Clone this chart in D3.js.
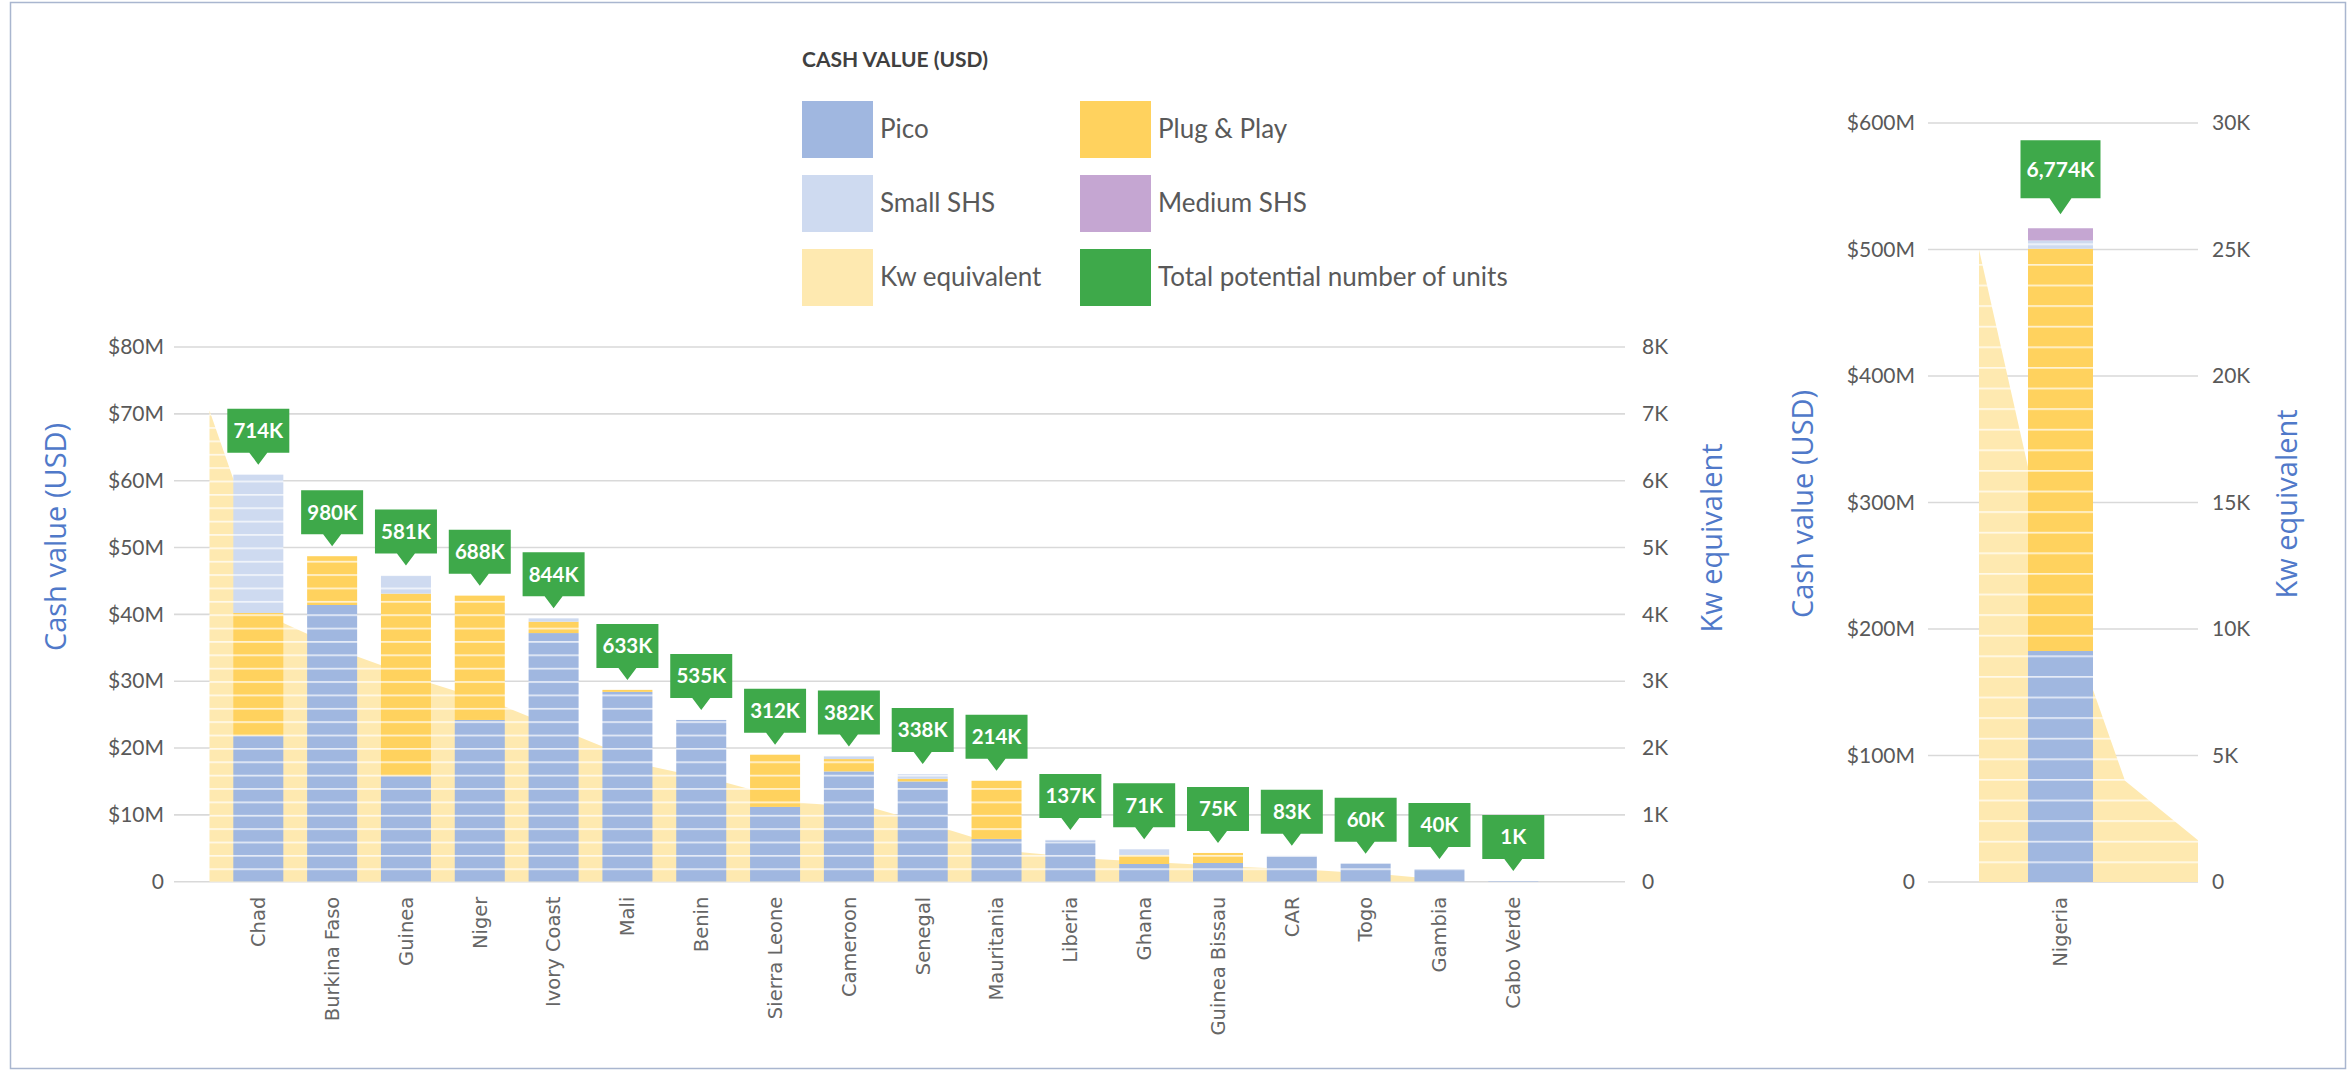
<!DOCTYPE html>
<html><head><meta charset="utf-8">
<script src="https://cdn.jsdelivr.net/npm/d3@7"></script>
<style>body{margin:0;background:#fff;} svg{display:block;}</style>
</head><body>
<svg id="chart" width="2351" height="1072"></svg>
<script>
// ---------- DATA ----------
const countries = ['Chad','Burkina Faso','Guinea','Niger','Ivory Coast','Mali','Benin','Sierra Leone','Cameroon','Senegal','Mauritania','Liberia','Ghana','Guinea Bissau','CAR','Togo','Gambia','Cabo Verde'];
// cash value, $M
const pico      = [21.8, 41.4, 15.8, 24.2, 37.2, 28.4, 24.2, 11.2, 16.5, 15.0, 6.4, 6.1, 2.65, 2.8, 3.8, 2.7, 1.9, 0.1];
const plugPlay  = [18.4, 7.3, 27.3, 18.6, 1.7, 0.3, 0, 7.8, 1.85, 0.4, 8.7, 0, 1.35, 1.5, 0, 0, 0, 0];
const smallSHS  = [20.7, 0, 2.7, 0, 0.5, 0, 0, 0, 0.4, 0.7, 0, 0.15, 0.85, 0, 0.1, 0, 0, 0];
const mediumSHS = [0, 0, 0, 0, 0, 0, 0, 0, 0, 0, 0, 0, 0, 0, 0, 0, 0, 0];
// total potential number of units (thousands)
const units = [714, 980, 581, 688, 844, 633, 535, 312, 382, 338, 214, 137, 71, 75, 83, 60, 40, 1];
// Kw equivalent (kW)
const kwEquivalent = [7050, 3870, 3370, 2970, 2620, 2170, 1720, 1480, 1180, 1100, 780, 440, 340, 280, 220, 170, 100, 0];

const nigeriaCategory = ['Nigeria'];
const nigeriaPico = [182.6];
const nigeriaPlugPlay = [318];
const nigeriaSmallSHS = [6.5];
const nigeriaMediumSHS = [9.7];
const nigeriaUnits = [6774];
const nigeriaKw = [25000, 12200, 4000, 1650];

const leftCashTicks = [0, 10, 20, 30, 40, 50, 60, 70, 80];
const leftKwTicks = [0, 1000, 2000, 3000, 4000, 5000, 6000, 7000, 8000];
const nigeriaCashTicks = [0, 100, 200, 300, 400, 500, 600];
const nigeriaKwTicks = [0, 5000, 10000, 15000, 20000, 25000, 30000];

const seriesKeys = ['Pico', 'Plug & Play', 'Small SHS', 'Medium SHS'];
const legendItems = ['Pico', 'Small SHS', 'Kw equivalent', 'Plug & Play', 'Medium SHS', 'Total potential number of units'];

// ---------- STYLE ----------
const colors = {
  'Pico': '#A0B7E0',
  'Plug & Play': '#FFD25E',
  'Small SHS': '#CEDAF0',
  'Medium SHS': '#C5A6D2',
  'Kw equivalent': '#FEE9B0',
  'Total potential number of units': '#3EA94A'
};
const textGray = '#595959';
const titleBlue = '#5079C9';
const gridColor = '#D9D9D9';

const svg = d3.select('#chart');
svg.append('rect').attr('width', 2351).attr('height', 1072).attr('fill', '#fff');
svg.append('rect').attr('x', 10.5).attr('y', 2.5).attr('width', 2335).attr('height', 1066)
  .attr('fill', 'none').attr('stroke', '#A9B6CF').attr('stroke-width', 1.5);

const defs = svg.append('defs');
function stripePattern(id, color, spacing, originY) {
  const p = defs.append('pattern').attr('id', id).attr('patternUnits', 'userSpaceOnUse')
    .attr('x', 0).attr('y', originY).attr('width', 20).attr('height', spacing);
  p.append('rect').attr('width', 20).attr('height', spacing).attr('fill', color);
  p.append('rect').attr('width', 20).attr('height', 1.7).attr('y', 0).attr('fill', '#fff').attr('opacity', 0.72);
}

function fmtCash(v) { return v === 0 ? '0' : '$' + v + 'M'; }
function fmtKw(v) { return v === 0 ? '0' : (v / 1000) + 'K'; }
const fmtUnits = v => d3.format(',')(v) + 'K';

function drawPanel(cfg) {
  const g = svg.append('g');
  const yC = d3.scaleLinear().domain(cfg.cashDomain).range([cfg.y0, cfg.y1]);
  const yK = d3.scaleLinear().domain(cfg.kwDomain).range([cfg.y0, cfg.y1]);
  const pref = cfg.id;
  Object.keys(colors).forEach((k, i) => stripePattern(pref + 'p' + i, colors[k], cfg.stripe, cfg.y0));
  const fillOf = k => `url(#${pref}p${Object.keys(colors).indexOf(k)})`;

  // gridlines
  g.append('g').selectAll('line').data(cfg.cashTicks).join('line')
    .attr('x1', cfg.gx0).attr('x2', cfg.gx1)
    .attr('y1', d => yC(d)).attr('y2', d => yC(d))
    .attr('stroke', gridColor).attr('stroke-width', 1.6);

  // area (Kw equivalent)
  const area = d3.area().x((d, i) => cfg.areaX(i)).y0(yK(0)).y1(d => yK(d));
  g.append('path').datum(cfg.kw).attr('d', area).attr('fill', fillOf('Kw equivalent'));

  // stacked bars
  const rows = cfg.cats.map((c, i) => ({
    cat: c, 'Pico': cfg.pico[i], 'Plug & Play': cfg.plug[i], 'Small SHS': cfg.small[i], 'Medium SHS': cfg.medium[i]
  }));
  const stack = d3.stack().keys(seriesKeys)(rows);
  g.append('g').selectAll('g').data(stack).join('g')
    .attr('fill', d => fillOf(d.key))
    .selectAll('rect').data(d => d).join('rect')
    .attr('x', d => cfg.x(d.data.cat)).attr('width', cfg.x.bandwidth())
    .attr('y', d => yC(d[1])).attr('height', d => Math.max(0, yC(d[0]) - yC(d[1])));

  // callouts
  const totals = rows.map(r => seriesKeys.reduce((s, k) => s + r[k], 0));
  const cg = g.append('g');
  cfg.cats.forEach((c, i) => {
    const cx = cfg.x(c) + cfg.x.bandwidth() / 2;
    const tip = yC(totals[i]) - cfg.gap;
    const bottom = tip - cfg.th, top = bottom - cfg.bh;
    const w = cfg.bw, tw = cfg.tw;
    cg.append('path')
      .attr('d', `M${cx - w/2},${top}H${cx + w/2}V${bottom}H${cx + tw/2}L${cx},${tip}L${cx - tw/2},${bottom}H${cx - w/2}Z`)
      .attr('fill', colors['Total potential number of units']);
    cg.append('text').attr('x', cx).attr('y', top + cfg.bh / 2).attr('dy', '0.36em')
      .attr('text-anchor', 'middle').attr('fill', '#fff')
      .attr('font-family', 'Lato, sans-serif').attr('font-weight', 700).attr('font-size', cfg.labelSize)
      .text(fmtUnits(cfg.units[i]));
  });

  // axes
  const axL = d3.axisLeft(yC).tickValues(cfg.cashTicks).tickFormat(fmtCash).tickSize(0).tickPadding(cfg.padL);
  const axR = d3.axisRight(yK).tickValues(cfg.kwTicks).tickFormat(fmtKw).tickSize(0).tickPadding(cfg.padR);
  [[axL, cfg.gx0], [axR, cfg.gx1]].forEach(([ax, xp]) => {
    const a = g.append('g').attr('transform', `translate(${xp},0)`).call(ax);
    a.select('.domain').remove();
    a.selectAll('text').attr('font-family', 'Lato, sans-serif').attr('font-size', 21).attr('fill', textGray);
  });

  // category labels
  g.append('g').selectAll('text').data(cfg.cats).join('text')
    .attr('transform', d => `translate(${cfg.x(d) + cfg.x.bandwidth() / 2},${cfg.y0 + 15}) rotate(-90)`)
    .attr('text-anchor', 'end').attr('dy', '0.35em')
    .attr('font-family', '"DejaVu Sans", sans-serif').attr('font-size', 19.5).attr('fill', '#666666')
    .text(d => d);

  // axis titles
  [[cfg.titleL, 'Cash value (USD)'], [cfg.titleR, 'Kw equivalent']].forEach(([p, t]) => {
    g.append('text').attr('transform', `translate(${p[0]},${p[1]}) rotate(-90)`)
      .attr('text-anchor', 'middle').attr('dy', '0.35em')
      .attr('font-family', '"Open Sans", sans-serif').attr('font-size', 29).attr('fill', titleBlue)
      .text(t);
  });
}

// left panel
const xLeft = d3.scaleBand().domain(countries).range([221.4, 1550.2]).paddingInner(0.3225).paddingOuter(0.16125);
drawPanel({
  id: 'L', cats: countries, x: xLeft,
  areaX: i => xLeft(countries[i]) - (xLeft.step() - xLeft.bandwidth()),
  pico, plug: plugPlay, small: smallSHS, medium: mediumSHS, units, kw: kwEquivalent,
  cashDomain: [0, 80], kwDomain: [0, 8000], cashTicks: leftCashTicks, kwTicks: leftKwTicks,
  y0: 881.7, y1: 347, gx0: 174, gx1: 1625, padL: 10, padR: 17, stripe: 13.37,
  gap: 10, th: 12, tw: 18, bw: 62, bh: 44, labelSize: 20.5,
  titleL: [56, 537], titleR: [1712, 538]
});

// Nigeria panel
const xNig = d3.scaleBand().domain(nigeriaCategory).range([2028, 2093]);
const xNigArea = d3.scalePoint().domain(d3.range(nigeriaKw.length)).range([1979, 2198]);
drawPanel({
  id: 'N', cats: nigeriaCategory, x: xNig,
  areaX: i => xNigArea(i),
  pico: nigeriaPico, plug: nigeriaPlugPlay, small: nigeriaSmallSHS, medium: nigeriaMediumSHS,
  units: nigeriaUnits, kw: nigeriaKw,
  cashDomain: [0, 600], kwDomain: [0, 30000], cashTicks: nigeriaCashTicks, kwTicks: nigeriaKwTicks,
  y0: 882, y1: 123, gx0: 1928, gx1: 2198, padL: 13, padR: 14, stripe: 20.6,
  gap: 14, th: 16, tw: 22, bw: 80, bh: 58, labelSize: 21,
  titleL: [1803, 504], titleR: [2287, 504]
});

// legend
const lg = svg.append('g');
lg.append('text').attr('x', 802).attr('y', 67).attr('font-family', 'Lato, sans-serif')
  .attr('font-weight', 700).attr('font-size', 21).attr('fill', '#404040').text('CASH VALUE (USD)');
legendItems.forEach((name, i) => {
  const col = Math.floor(i / 3), row = i % 3;
  const x = col === 0 ? 802 : 1080;
  const cy = 129 + row * 74;
  lg.append('rect').attr('x', x).attr('y', cy - 28).attr('width', 71).attr('height', 57).attr('fill', colors[name]);
  lg.append('text').attr('x', x + 78).attr('y', cy).attr('dy', '0.35em')
    .attr('font-family', 'Lato, sans-serif').attr('font-size', 26).attr('fill', textGray).text(name);
});
</script>
</body></html>
